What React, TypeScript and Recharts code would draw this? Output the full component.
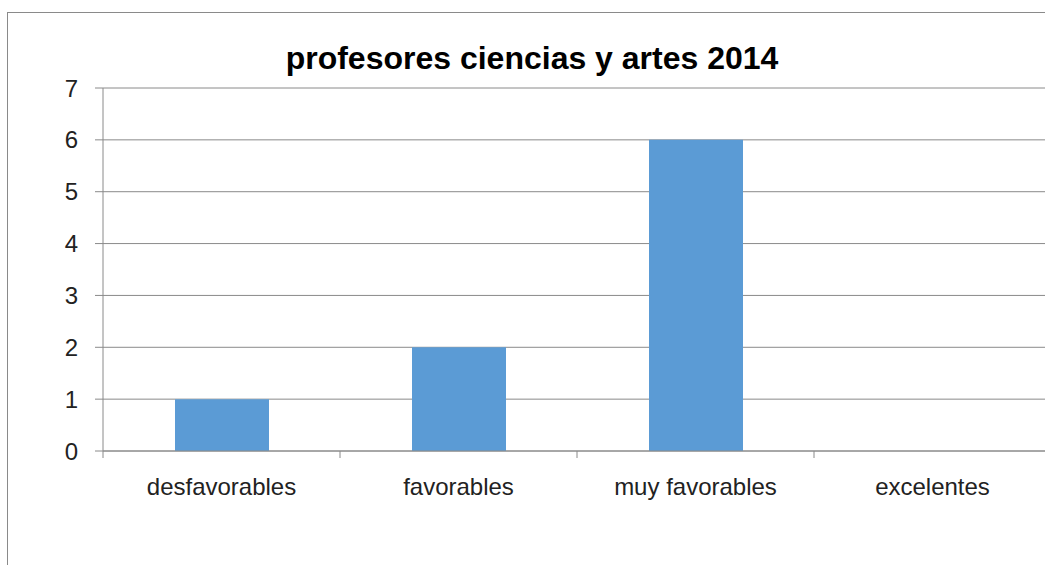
import { Bar, BarChart, CartesianGrid, XAxis, YAxis } from "recharts";

const categories = ["desfavorables", "favorables", "muy favorables", "excelentes"];
const values = [1, 2, 6, 0];
const yTicks = [0, 1, 2, 3, 4, 5, 6, 7];

const data = categories.map((c, i) => ({ name: c, value: values[i] }));

const font = "'Liberation Sans', Arial, sans-serif";
const grey = "#8a8a8a";

const W = 1080;
const H = 570;
const margin = { top: 75, right: 37, left: 0, bottom: 74 };
const yAxisW = 95;
const xAxisH = 58;
const plotBottom = H - margin.bottom - xAxisH;
const band = (W - margin.left - margin.right - yAxisW) / categories.length;

// category label plus the boundary tick Excel draws between categories
function CategoryTick(props: any) {
  const { x, payload, index } = props;
  const left = x - band / 2;
  return (
    <g>
      {index === 0 && <line x1={left} x2={left} y1={plotBottom} y2={plotBottom + 7} stroke={grey} />}
      <line x1={left + band} x2={left + band} y1={plotBottom} y2={plotBottom + 7} stroke={grey} />
      <text x={x} y={plotBottom + 44} textAnchor="middle" fill="#222" fontSize={24} fontFamily={font}>
        {payload.value}
      </text>
    </g>
  );
}

export default function App() {
  return (
    <div style={{ position: "fixed", left: 0, top: 0, width: 1045, height: 565, overflow: "hidden", background: "#fff" }}>
      <div
        style={{
          position: "absolute",
          left: 7,
          top: 12,
          width: W,
          height: H,
          border: `1px solid ${grey}`,
          background: "#fff",
        }}
      >
        <div
          style={{
            position: "absolute",
            left: 0,
            top: 27,
            width: 1048,
            textAlign: "center",
            fontFamily: font,
            fontWeight: 700,
            fontSize: 32,
            lineHeight: "36px",
            color: "#000",
          }}
        >
          profesores ciencias y artes 2014
        </div>
        <BarChart width={W} height={H} data={data} margin={margin}>
          <CartesianGrid vertical={false} stroke={grey} />
          <XAxis
            dataKey="name"
            height={xAxisH}
            axisLine={{ stroke: grey }}
            tickLine={false}
            tick={CategoryTick}
          />
          <YAxis
            width={yAxisW}
            domain={[0, 7]}
            ticks={yTicks}
            tickSize={8}
            tickMargin={17}
            axisLine={{ stroke: grey }}
            tickLine={{ stroke: grey }}
            tick={{ fill: "#222", fontSize: 24, fontFamily: font }}
          />
          <Bar dataKey="value" fill="#5B9BD5" barSize={94} isAnimationActive={false} />
        </BarChart>
      </div>
    </div>
  );
}
